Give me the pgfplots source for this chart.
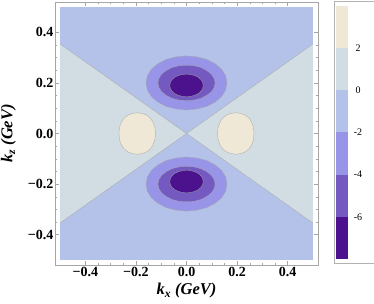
\documentclass[border=0pt]{standalone}
\usepackage{pgfplots}
\pgfplotsset{compat=1.18}
\usepackage{pgfplotstable}
\usepackage{fontspec}
\setmainfont{Liberation Serif}

% contour band colours (low -> high)
\definecolor{cD}{RGB}{76,17,141}
\definecolor{cP}{RGB}{116,89,193}
\definecolor{cM}{RGB}{152,149,232}
\definecolor{cL}{RGB}{180,193,232}
\definecolor{cG}{RGB}{209,221,227}
\definecolor{cB}{RGB}{240,232,215}
\colorlet{cline}{black!35}

% contour -2 (outer), upper and lower lobes
\pgfplotstableread{
kx top bot
0.160 0.200 -0.200
0.155 0.228 -0.228
0.139 0.254 -0.254
0.113 0.276 -0.276
0.080 0.293 -0.293
0.041 0.303 -0.303
0.000 0.307 -0.307
-0.041 0.303 -0.303
-0.080 0.293 -0.293
-0.113 0.276 -0.276
-0.139 0.254 -0.254
-0.155 0.228 -0.228
-0.160 0.200 -0.200
-0.155 0.172 -0.172
-0.139 0.146 -0.146
-0.113 0.124 -0.124
-0.080 0.107 -0.107
-0.041 0.097 -0.097
0.000 0.093 -0.093
0.041 0.097 -0.097
0.080 0.107 -0.107
0.113 0.124 -0.124
0.139 0.146 -0.146
0.155 0.172 -0.172
}\outerc

% contour -4
\pgfplotstableread{
kx top bot
0.113 0.200 -0.200
0.109 0.218 -0.218
0.098 0.235 -0.235
0.080 0.249 -0.249
0.057 0.261 -0.261
0.029 0.268 -0.268
0.000 0.270 -0.270
-0.029 0.268 -0.268
-0.057 0.261 -0.261
-0.080 0.249 -0.249
-0.098 0.235 -0.235
-0.109 0.218 -0.218
-0.113 0.200 -0.200
-0.109 0.182 -0.182
-0.098 0.165 -0.165
-0.080 0.151 -0.151
-0.057 0.139 -0.139
-0.029 0.132 -0.132
0.000 0.130 -0.130
0.029 0.132 -0.132
0.057 0.139 -0.139
0.080 0.151 -0.151
0.098 0.165 -0.165
0.109 0.182 -0.182
}\midc

% contour -6
\pgfplotstableread{
kx top bot
0.066 0.190 -0.190
0.064 0.202 -0.202
0.057 0.213 -0.213
0.047 0.222 -0.222
0.033 0.229 -0.229
0.017 0.233 -0.233
0.000 0.235 -0.235
-0.017 0.233 -0.233
-0.033 0.229 -0.229
-0.047 0.222 -0.222
-0.057 0.213 -0.213
-0.064 0.202 -0.202
-0.066 0.190 -0.190
-0.064 0.178 -0.178
-0.057 0.167 -0.167
-0.047 0.158 -0.158
-0.033 0.151 -0.151
-0.017 0.147 -0.147
0.000 0.145 -0.145
0.017 0.147 -0.147
0.033 0.151 -0.151
0.047 0.158 -0.158
0.057 0.167 -0.167
0.064 0.178 -0.178
}\innerc

% contour +2, left and right islands
\pgfplotstableread{
left right kz
-0.123 0.123 0.000
-0.125 0.125 0.024
-0.132 0.132 0.044
-0.142 0.142 0.060
-0.157 0.157 0.072
-0.174 0.174 0.079
-0.195 0.195 0.082
-0.216 0.216 0.079
-0.233 0.233 0.072
-0.248 0.248 0.060
-0.258 0.258 0.044
-0.265 0.265 0.024
-0.267 0.267 0.000
-0.265 0.265 -0.024
-0.258 0.258 -0.044
-0.248 0.248 -0.060
-0.233 0.233 -0.072
-0.216 0.216 -0.079
-0.195 0.195 -0.082
-0.174 0.174 -0.079
-0.157 0.157 -0.072
-0.142 0.142 -0.060
-0.132 0.132 -0.044
-0.125 0.125 -0.024
}\islands

\begin{document}
\begin{tikzpicture}
\path[use as bounding box] (-55pt,-38pt) rectangle (319pt,265pt);

\begin{axis}[
  at={(0pt,0pt)}, anchor=south west,
  width=263pt, height=263pt, scale only axis,
  xmin=-0.52, xmax=0.52, ymin=-0.52, ymax=0.52,
  xtick={-0.4,-0.2,0,0.2,0.4}, ytick={-0.4,-0.2,0,0.2,0.4},
  xticklabels={−0.4,−0.2,0.0,0.2,0.4},
  yticklabels={−0.4,−0.2,0.0,0.2,0.4},
  minor x tick num=3, minor y tick num=3,
  tick align=inside, major tick length=4pt, minor tick length=2pt,
  axis line style={gray!70}, tick style={gray!70, line width=0.4pt},
  ticklabel style={font=\fontsize{14}{16}\selectfont\bfseries},
  xticklabel style={yshift=1pt},
  yticklabel style={xshift=2pt},
  axis on top,
  xlabel={k\textsubscript{x} (GeV)},
  ylabel={k\textsubscript{z} (GeV)},
  label style={font=\fontsize{16.5}{18}\selectfont\bfseries\itshape},
  xlabel style={at={(axis description cs:0.5,-0.097)}, anchor=center},
  ylabel style={at={(axis description cs:-0.177,0.5)}, anchor=center},
]
  % negative band (0..-2) fills the frame
  \addplot[fill=cL, draw=none] coordinates {(-0.5,-0.5) (0.5,-0.5) (0.5,0.5) (-0.5,0.5)} -- cycle;
  % positive band (0..2) between the zero lines
  \addplot[fill=cG, draw=none] coordinates {(-0.5,0.354) (0,0) (-0.5,-0.354)} -- cycle;
  \addplot[fill=cG, draw=none] coordinates {(0.5,0.354) (0,0) (0.5,-0.354)} -- cycle;
  \addplot[cline, line width=0.3pt] coordinates {(-0.5,0.354) (0.5,-0.354)};
  \addplot[cline, line width=0.3pt] coordinates {(-0.5,-0.354) (0.5,0.354)};
  % wells
  \addplot[fill=cM, draw=cline, line width=0.3pt] table[x=kx, y=top] {\outerc} -- cycle;
  \addplot[fill=cM, draw=cline, line width=0.3pt] table[x=kx, y=bot] {\outerc} -- cycle;
  \addplot[fill=cP, draw=cline, line width=0.3pt] table[x=kx, y=top] {\midc} -- cycle;
  \addplot[fill=cP, draw=cline, line width=0.3pt] table[x=kx, y=bot] {\midc} -- cycle;
  \addplot[fill=cD, draw=cline, line width=0.3pt] table[x=kx, y=top] {\innerc} -- cycle;
  \addplot[fill=cD, draw=cline, line width=0.3pt] table[x=kx, y=bot] {\innerc} -- cycle;
  % islands above 2
  \addplot[fill=cB, draw=cline, line width=0.3pt] table[x=left, y=kz] {\islands} -- cycle;
  \addplot[fill=cB, draw=cline, line width=0.3pt] table[x=right, y=kz] {\islands} -- cycle;
\end{axis}

% legend bar
\begin{axis}[
  at={(279pt,2pt)}, anchor=south west,
  width=45pt, height=262pt, scale only axis,
  xmin=0, xmax=45, ymin=-8.19, ymax=4.237,
  xtick=\empty, ytick=\empty,
  axis line style={gray!60},
  every node/.append style={font=\fontsize{6.5}{7}\selectfont\bfseries},
]
  \addplot[fill=cD, draw=none] coordinates {(2,-8) (14,-8) (14,-6) (2,-6)} -- cycle;
  \addplot[fill=cP, draw=none] coordinates {(2,-6) (14,-6) (14,-4) (2,-4)} -- cycle;
  \addplot[fill=cM, draw=none] coordinates {(2,-4) (14,-4) (14,-2) (2,-2)} -- cycle;
  \addplot[fill=cL, draw=none] coordinates {(2,-2) (14,-2) (14,0) (2,0)} -- cycle;
  \addplot[fill=cG, draw=none] coordinates {(2,0) (14,0) (14,2) (2,2)} -- cycle;
  \addplot[fill=cB, draw=none] coordinates {(2,2) (14,2) (14,4) (2,4)} -- cycle;
  \node at (axis cs:24,2) {2};
  \node at (axis cs:24,0) {0};
  \node at (axis cs:24,-2) {-2};
  \node at (axis cs:24,-4) {-4};
  \node at (axis cs:24,-6) {-6};
\end{axis}
\end{tikzpicture}
\end{document}
